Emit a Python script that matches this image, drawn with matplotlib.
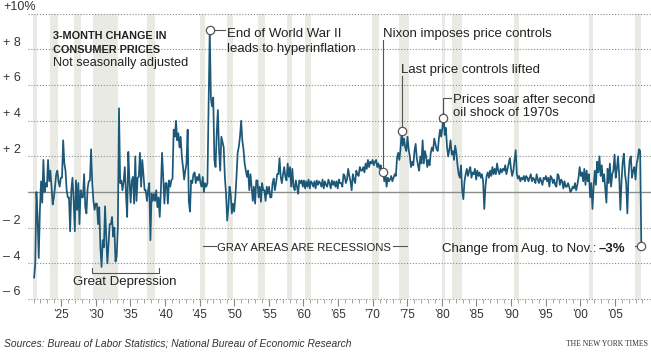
import matplotlib.pyplot as plt
import numpy as np

# 3-month change in consumer prices, ~6 readings a year
change = [
    -4.8, -4.0, 0.0, -1.4, -3.7, -1.0,      # 1921
    0.6, -0.6, 1.8, 0.0, 0.5, 0.3,
    1.8, 0.6, 1.2, 0.3, -0.7, -0.3,
    0.3, 1.0, 1.2, 0.6, 0.3, 0.8,
    0.8, 2.9, 1.6, 1.2, 0.1, -0.3,          # 1925
    -0.3, -2.2, 0.1, 0.8, -0.5, -2.2,
    0.65, -1.0, 0.5, -1.8, 0.1, -0.3,
    -0.3, 1.0, -0.85, -1.2, 0.2, 0.6,
    0.65, 2.4, 0.5, -0.5, -1.0, -0.65,
    -0.65, -1.8, -0.85, -3.1, -4.2, -2.7,   # 1930
    -3.1, -0.8, -2.5, -4.0, -2.9, -1.8,
    -1.8, -1.4, -2.5, -2.0, -3.9, -3.6,
    -2.0, 4.7, 0.5, 0.65, 0.1, 0.6,
    1.4, -0.1, -1.4, 2.25, 0.6, -0.6,
    0.65, 0.85, -0.65, 2.0, -0.5, 0.8,      # 1935
    0.85, 2.2, 0.3, 1.8, 1.0, 0.1,
    0.1, -0.5, 0.1, 0.5, -2.7, -0.1,
    -0.5, -0.1, -0.5, 0.1, -0.85, -0.3,
    -1.4, 0.1, 2.2, 0.85, -0.65, 0.5,
    0.5, -0.65, 0.65, 0.3, 0.65, 0.75,      # 1940
    3.5, 3.1, 4.0, 2.9, 3.3, 2.5,
    3.1, 2.0, 1.4, 0.7, 1.2, 1.6,
    3.5, -0.5, -1.1, 0.65, 0.5, 1.0,
    1.1, 0.5, 0.85, 0.65, 1.0, 0.5,
    0.3, 0.85, 0.0, 0.5, 0.3, 0.5,          # 1945
    5.0, 9.1, 5.25, 4.8, 5.3, 1.8,
    1.4, 3.3, 4.6, 2.3, 1.2, 3.1,
    2.8, 2.5, 0.85, -0.1, -1.6, -0.85,
    0.3, -0.1, -1.2, -0.65, -1.1, -0.3,
    0.85, 2.2, 2.55, 3.1, 4.0, 2.9,         # 1950
    2.4, 1.6, 1.2, 0.85, 1.2, 0.1,
    1.0, 0.3, -0.5, 0.3, -0.65, 0.65,
    0.65, -0.3, 0.3, -0.55, 0.5, 0.1,
    0.1, -0.5, 0.3, -0.1, 0.3, -0.3,
    -0.3, 0.5, 0.75, 0.1, 0.5, 1.0,         # 1955
    1.0, 1.9, 0.85, 0.5, 1.0, 1.4,
    0.85, 0.65, 1.6, 0.85, 1.4, 0.3,
    1.3, 0.3, 0.1, 0.65, 0.3, -0.1,
    0.65, 0.5, 0.65, 0.3, 0.65, 0.2,
    0.6, 0.3, 0.7, 0.2, 0.6, 0.5,           # 1960
    0.3, 0.6, 0.2, 0.65, 0.4, 0.6,
    0.5, 0.3, 0.7, 0.2, 0.6, 0.4,
    0.3, 0.7, 0.5, 0.2, 0.65, 0.4,
    0.6, 0.3, 0.6, 0.2, 0.7, 0.5,
    0.5, 0.3, 1.0, 0.9, 0.5, 0.7,           # 1965
    1.3, 0.9, 0.6, 0.1, 1.0, 0.7,
    0.5, 1.2, 1.0, 0.9, 1.4, 1.2,
    1.2, 1.4, 1.1, 1.6, 1.3, 1.8,
    1.4, 1.7, 1.6, 1.8, 1.5, 1.7,
    1.8, 1.4, 1.6, 1.3, 1.5, 1.0,           # 1970
    1.3, 0.6, 1.1, 0.3, 0.8, 0.6,
    0.7, 0.9, 0.6, 0.8, 1.0, 0.9,
    1.9, 2.2, 1.8, 2.4, 3.4, 2.6,
    3.0, 2.5, 2.3, 3.1, 2.4, 2.0,
    1.4, 1.7, 1.5, 2.3, 2.7, 1.9,           # 1975
    1.5, 1.2, 2.0, 1.6, 2.9, 1.6,
    2.3, 2.0, 1.4, 1.8, 1.5, 2.2,
    2.5, 2.3, 3.0, 2.7, 2.4, 2.3,
    3.0, 3.5, 3.1, 3.6, 4.4, 3.2,
    3.6, 2.5, 2.0, 2.4, 2.9, 2.1,           # 1980
    2.3, 1.8, 2.6, 2.2, 1.5, 1.0,
    0.8, 1.5, 0.1, -0.4, 0.6, 1.0,
    1.3, 0.9, 1.2, 1.4, 0.8, 1.1,
    1.0, 1.3, 0.7, 1.2, 0.9, 1.1,
    0.8, 1.0, 0.6, -0.95, 0.3, 0.9,         # 1985
    1.1, 0.8, 1.2, 0.9, 1.4, 1.0,
    1.3, 1.0, 1.6, 1.2, 1.0, 1.3,
    1.1, 1.3, 1.2, 1.5, 1.0, 1.3,
    1.6, 1.9, 1.3, 0.9, 1.2, 1.8,
    2.35, 1.0, 0.75, 0.9, 0.6, 0.8,         # 1990
    0.7, 0.9, 0.6, 0.9, 0.8, 0.6,
    0.8, 1.0, 0.6, 0.8, 0.7, 0.5,
    1.0, 0.7, 0.5, 0.8, 0.6, 0.4,
    0.8, 0.7, 0.9, 0.6, 0.8, 0.3,
    0.9, 0.8, 0.5, 0.7, 0.4, 0.3,           # 1995
    1.0, 0.9, 0.4, 0.7, 0.6, 0.2,
    0.6, 0.3, 0.3, 0.5, 0.3, 0.0,
    0.1, 0.3, 0.2, 0.5, 0.1, 0.4,
    0.8, 1.4, 0.9, 1.1, 0.6, 1.3,
    0.4, 1.2, 0.6, 1.0, -0.3, 0.5,          # 2000
    -0.95, 0.3, 1.2, 0.4, 1.7, 1.1,
    2.0, 0.9, 1.5, 0.6, 1.0, 0.2,
    -0.6, 1.3, 0.5, 1.6, 0.3, 1.0,
    1.2, 2.1, 0.8, 1.3, 2.0, 0.9,
    -1.0, 0.6, 1.7, 2.15, 1.0, 0.5,         # 2005
    -1.2, 0.9, 1.8, 2.0, 0.8, 1.2,
    1.4, 0.7, 1.6, 1.9, 2.4, 2.3,
    -3.0,                                   # Aug. to Nov. 2008
]
dates = np.linspace(1921.08, 2008.83, len(change))

# NBER recessions (start, end) in decimal years
recessions = [
    (1920.0, 1921.5), (1923.4, 1924.5), (1926.8, 1927.9), (1929.6, 1933.2),
    (1937.4, 1938.5), (1945.1, 1945.8), (1948.9, 1949.8), (1953.5, 1954.4),
    (1957.6, 1958.3), (1960.3, 1961.1), (1969.9, 1970.9), (1973.8, 1975.2),
    (1980.0, 1980.5), (1981.5, 1982.9), (1990.5, 1991.2), (2001.2, 2001.9),
    (2007.9, 2008.83),
]

grid_vals = [10, 8, 6, 4, 2, -2, -4, -6]
grid_labels = ['+10%', '+ 8', '+ 6', '+ 4', '+ 2', '\u2013 2', '\u2013 4', '\u2013 6']
major_years = list(range(1925, 2006, 5))
major_labels = ['\u2019%02d' % (y % 100) for y in major_years]

line_color = '#1c5877'
band_color = '#eaeae5'
note_color = '#555555'
text_color = '#222222'
plt.rcParams['font.family'] = ['Liberation Sans', 'DejaVu Sans']

fig = plt.figure(figsize=(6.51, 3.53), dpi=100)
ax = fig.add_axes([28 / 651, 54 / 353, 623 / 651, 299 / 353])
ax.set_xlim(1920.2, 2010.23)
ax.set_ylim(-6, 10.77)
for s in ax.spines.values():
    s.set_visible(False)
ax.set_yticks([])

# recession bands
for s, e in recessions:
    ax.fill_between([max(s, dates[0] - 0.15), e], -6, 10, color=band_color, lw=0, zorder=0)

# gridlines and labels
for g, lab in zip(grid_vals, grid_labels):
    ax.axhline(g, color='#8a8a8a', lw=0.8, ls=(0, (1, 1.6)), zorder=1, clip_on=False)
    ax.text(1916.6, g + 0.2, lab, fontsize=9, color='#333333', ha='left', va='baseline',
            bbox=dict(facecolor='white', edgecolor='none', pad=0.5) if g == 10 else None)
ax.axhline(0, color='#8c8c8c', lw=1.0, zorder=1)

# x ticks
ax.set_xticks(major_years)
ax.set_xticklabels(major_labels, fontsize=8.5, color='#333333')
ax.set_xticks(range(1921, 2010), minor=True)
ax.tick_params(axis='x', which='major', length=5, width=0.8, color='#888888', pad=2.5)
ax.tick_params(axis='x', which='minor', length=3, width=0.6, color='#999999')

# the series
ax.plot(dates, change, color=line_color, lw=1.25, zorder=3)

circle = dict(marker='o', ms=6, mfc='white', mec=note_color, mew=0.9, zorder=5, clip_on=False)

# title block
ax.text(1923.8, 8.58, '3-MONTH CHANGE IN', fontsize=7.8, fontweight='bold', color=text_color)
ax.text(1923.8, 7.79, 'CONSUMER PRICES', fontsize=7.8, fontweight='bold', color=text_color)
ax.text(1923.8, 7.06, 'Not seasonally adjusted', fontsize=9.2, color=text_color)

# WWII peak
i_pk = int(np.argmax(change))
ax.plot(dates[i_pk], change[i_pk], **circle)
ax.plot([dates[i_pk] + 0.6, 1948.6], [change[i_pk], change[i_pk]], color=note_color, lw=0.8)
ax.text(1948.94, 8.69, 'End of World War II', fontsize=9.5, color=text_color)
ax.text(1948.94, 7.85, 'leads to hyperinflation', fontsize=9.5, color=text_color)

# price controls
events = [1971.55, 1974.2, 1980.2]
v_nixon = np.interp(events[0], dates, change)
ax.plot([events[0], events[0]], [v_nixon + 0.25, 8.55], color=note_color, lw=0.8)
ax.plot(events[0], v_nixon, **circle)
ax.text(1971.46, 8.69, 'Nixon imposes price controls', fontsize=9.5, color=text_color)

v_lift = np.interp(events[1], dates, change)
ax.plot([events[1], events[1]], [v_lift + 0.25, 6.5], color=note_color, lw=0.8)
ax.plot(events[1], v_lift, **circle)
ax.text(1974.06, 6.67, 'Last price controls lifted', fontsize=9.5, color=text_color)

v_oil = np.interp(events[2], dates, change)
ax.plot([events[2], events[2], 1981.3], [v_oil + 0.25, 5.3, 5.3], color=note_color, lw=0.8)
ax.plot(events[2], v_oil, **circle)
ax.text(1981.58, 4.98, 'Prices soar after second', fontsize=9.5, color=text_color)
ax.text(1981.58, 4.25, 'oil shock of 1970s', fontsize=9.5, color=text_color)

# Great Depression bracket
ax.plot([1929.41, 1929.41, 1939.18, 1939.18], [-4.25, -4.53, -4.53, -4.25], color=note_color, lw=0.8)
ax.text(1934.22, -5.24, 'Great Depression', fontsize=9.5, ha='center', color=text_color)

# recession note
ax.plot([1945.49, 1947.37], [-3.05, -3.05], color=note_color, lw=0.8)
ax.plot([1972.9, 1974.9], [-3.05, -3.05], color=note_color, lw=0.8)
ax.text(1947.55, -3.3, 'GRAY AREAS ARE RECESSIONS', fontsize=8.1, color=text_color)

# latest change
ax.plot(dates[-1], change[-1], **circle)
ax.plot([2007.85, dates[-1] - 0.6], [change[-1], change[-1]], color=note_color, lw=0.8)
t1 = ax.text(1979.99, -3.39, 'Change from Aug. to Nov.:\u2009', fontsize=9.5, color=text_color)
ax.annotate('\u20133%', xy=(1, 0), xycoords=t1, ha='left', va='bottom',
            fontsize=9.5, fontweight='bold', color=text_color)

fig.text(4 / 651, 1 - 346 / 353, 'Sources: Bureau of Labor Statistics; National Bureau of Economic Research',
         fontsize=7.35, style='italic', color='#333333', va='baseline')
fig.text(648 / 651, 1 - 346 / 353, 'THE NEW YORK TIMES', fontsize=5.5, family='Liberation Serif',
         color='#333333', ha='right', va='baseline')

fig.savefig('out.png', dpi=100)
